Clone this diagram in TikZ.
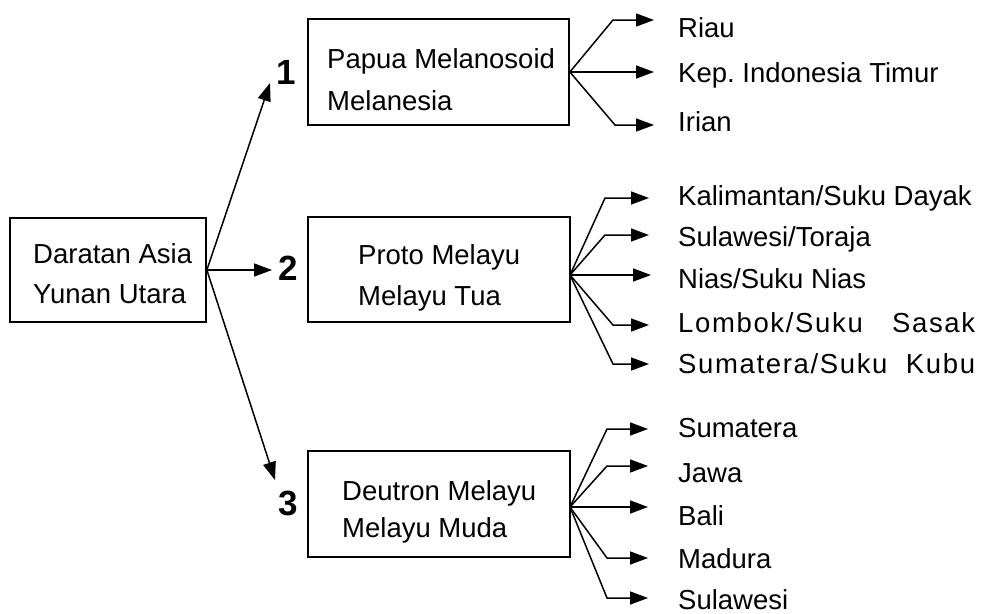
\documentclass[tikz,border=0pt]{standalone}
\usepackage{fontspec}
\setmainfont{Liberation Sans}
\newfontfamily\spacedfont[LetterSpace=6]{Liberation Sans}
\usetikzlibrary{arrows.meta}
\frenchspacing
\begin{document}
\begin{tikzpicture}[x=1pt,y=-1pt,
  box/.style={draw, line width=1.7pt, inner sep=0pt},
  txt/.style={anchor=base west, inner sep=0pt, font=\fontsize{27.5}{28}\selectfont},
  num/.style={inner sep=0pt, font=\fontsize{35}{35}\selectfont\bfseries},
  link/.style={line width=1.5pt, -{Triangle[length=18pt,width=13pt]}},
  ]
\path[use as bounding box, fill=white] (0,0) rectangle (982,613);

% boxes
\node[box, minimum width=196pt, minimum height=104pt] (src) at (108,270) {};
\node[box, minimum width=261pt, minimum height=106pt] (b1) at (438.5,72) {};
\node[box, minimum width=262pt, minimum height=105pt] (b2) at (439,269.5) {};
\node[box, minimum width=262pt, minimum height=106pt] (b3) at (439,504) {};

% box texts
\node[txt] (t0a) at (33,263) {Daratan Asia};
\node[txt] (t0b) at (33,303) {Yunan Utara};
\node[txt] (t1a) at (327,68) {Papua Melanosoid};
\node[txt] (t1b) at (327,110) {Melanesia};
\node[txt] (t2a) at (358,264) {Proto Melayu};
\node[txt] (t2b) at (358,305) {Melayu Tua};
\node[txt] (t3a) at (342,500) {Deutron Melayu};
\node[txt] (t3b) at (342,537) {Melayu Muda};

% numbers
\node[num] (n1) at (286,72) {1};
\node[num] (n2) at (288,268) {2};
\node[num] (n3) at (288,503) {3};

\coordinate (a1) at (270,83);
\coordinate (a2) at (272,270);
\coordinate (a3) at (275,480);
\draw[link] (src.east) -- (a1);
\draw[link] (src.east) -- (a2);
\draw[link] (src.east) -- (a3);

% leaves group 1
\node[txt] (l11) at (678,37) {Riau};
\node[txt] (l12) at (678,82) {Kep. Indonesia Timur};
\node[txt] (l13) at (678,131) {Irian};
% leaves group 2
\node[txt] (l21) at (678,205) {Kalimantan/Suku Dayak};
\node[txt] (l22) at (678,246) {Sulawesi/Toraja};
\node[txt] (l23) at (678,288) {Nias/Suku Nias};
\node[txt] (l24) at (678,332) {\makebox[297pt][s]{\spacedfont Lombok/Suku Sasak}};
\node[txt] (l25) at (678,373) {\makebox[297pt][s]{\spacedfont Sumatera/Suku Kubu}};
% leaves group 3
\node[txt] (l31) at (678,437) {Sumatera};
\node[txt] (l32) at (678,482) {Jawa};
\node[txt] (l33) at (678,525) {Bali};
\node[txt] (l34) at (678,568) {Madura};
\node[txt] (l35) at (678,609) {Sulawesi};

% fan 1
\coordinate (o1) at (b1.east);
\coordinate (e11) at (613,20);  \coordinate (p11) at (654,20);
\coordinate (p12) at (654,72);
\coordinate (e13) at (615,125); \coordinate (p13) at (654,125);
\draw[link] (o1) -- (e11) -- (p11);
\draw[link] (o1) -- (p12);
\draw[link] (o1) -- (e13) -- (p13);

% fan 2
\coordinate (o2) at (570,275);
\coordinate (e21) at (605,198); \coordinate (p21) at (649,198);
\coordinate (e22) at (605,235); \coordinate (p22) at (649,235);
\coordinate (p23) at (651,275);
\coordinate (e24) at (613,325); \coordinate (p24) at (649,325);
\coordinate (e25) at (613,364); \coordinate (p25) at (649,364);
\draw[link] (o2) -- (e21) -- (p21);
\draw[link] (o2) -- (e22) -- (p22);
\draw[link] (o2) -- (p23);
\draw[link] (o2) -- (e24) -- (p24);
\draw[link] (o2) -- (e25) -- (p25);

% fan 3
\coordinate (o3) at (570,507);
\coordinate (e31) at (607,429); \coordinate (p31) at (648,429);
\coordinate (e32) at (607,466); \coordinate (p32) at (648,466);
\coordinate (p33) at (648,507);
\coordinate (e34) at (607,558); \coordinate (p34) at (648,558);
\coordinate (e35) at (607,598); \coordinate (p35) at (648,598);
\draw[link] (o3) -- (e31) -- (p31);
\draw[link] (o3) -- (e32) -- (p32);
\draw[link] (o3) -- (p33);
\draw[link] (o3) -- (e34) -- (p34);
\draw[link] (o3) -- (e35) -- (p35);
\end{tikzpicture}
\end{document}
